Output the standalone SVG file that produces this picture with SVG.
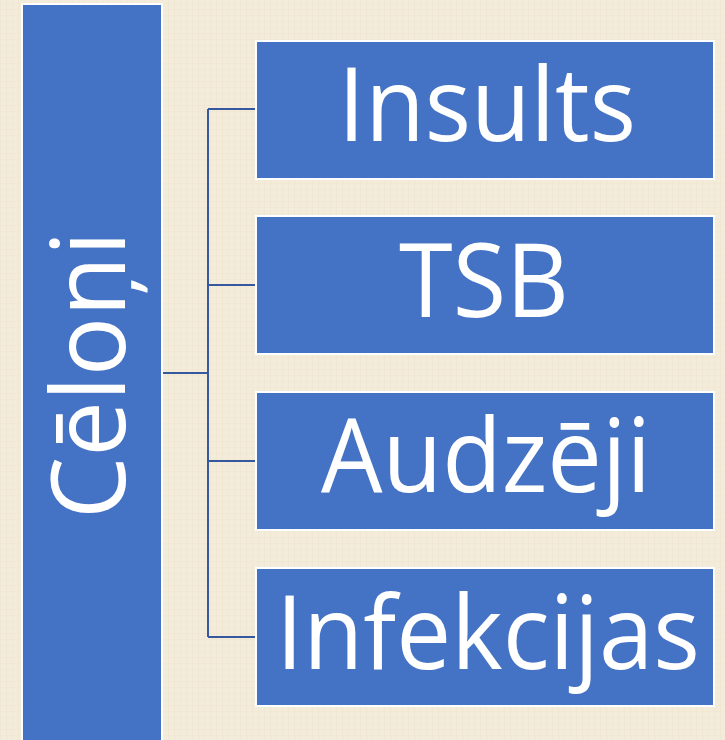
<svg xmlns="http://www.w3.org/2000/svg" width="725" height="740" viewBox="0 0 725 740">
<defs>
<style>
.box{fill:#4472C4;stroke:#ffffff;stroke-width:2}
.lbl{fill:#ffffff;font-family:"Open Sans","Noto Sans",sans-serif;font-size:102px;text-anchor:middle}
.conn{fill:none;stroke:#35589f;stroke-width:2}
</style>
<pattern id="tex" width="6" height="6" patternUnits="userSpaceOnUse">
<rect width="6" height="6" fill="#f4ecdb"/>
<rect x="0" y="0" width="1" height="6" fill="#efe5d0" opacity="0.6"/>
<rect x="0" y="3" width="6" height="1" fill="#efe5d0" opacity="0.5"/>
</pattern>
</defs>
<rect width="725" height="740" fill="url(#tex)"/>
<g id="connectors">
<path class="conn" d="M162,373 H208 M208,109 V637 M208,109 H255 M208,285 H255 M208,461 H255 M208,637 H255"/>
</g>
<g id="celoni">
<rect class="box" x="22" y="4" width="140" height="745"/>
<text class="lbl" transform="translate(125,375) rotate(-90)" x="0" y="0" textLength="288" lengthAdjust="spacingAndGlyphs">Cēloņi</text>
</g>
<g id="insults">
<rect class="box" x="256" y="41" width="458" height="138"/>
<text class="lbl" x="487" y="141" textLength="298" lengthAdjust="spacingAndGlyphs">Insults</text>
</g>
<g id="tsb">
<rect class="box" x="256" y="216" width="458" height="138"/>
<text class="lbl" x="484" y="317" textLength="170" lengthAdjust="spacingAndGlyphs">TSB</text>
</g>
<g id="audzeji">
<rect class="box" x="256" y="392" width="458" height="138"/>
<text class="lbl" x="486" y="492" textLength="330" lengthAdjust="spacingAndGlyphs">Audzēji</text>
</g>
<g id="infekcijas">
<rect class="box" x="256" y="568" width="458" height="138"/>
<text class="lbl" x="488" y="669" textLength="424" lengthAdjust="spacingAndGlyphs">Infekcijas</text>
</g>
</svg>
